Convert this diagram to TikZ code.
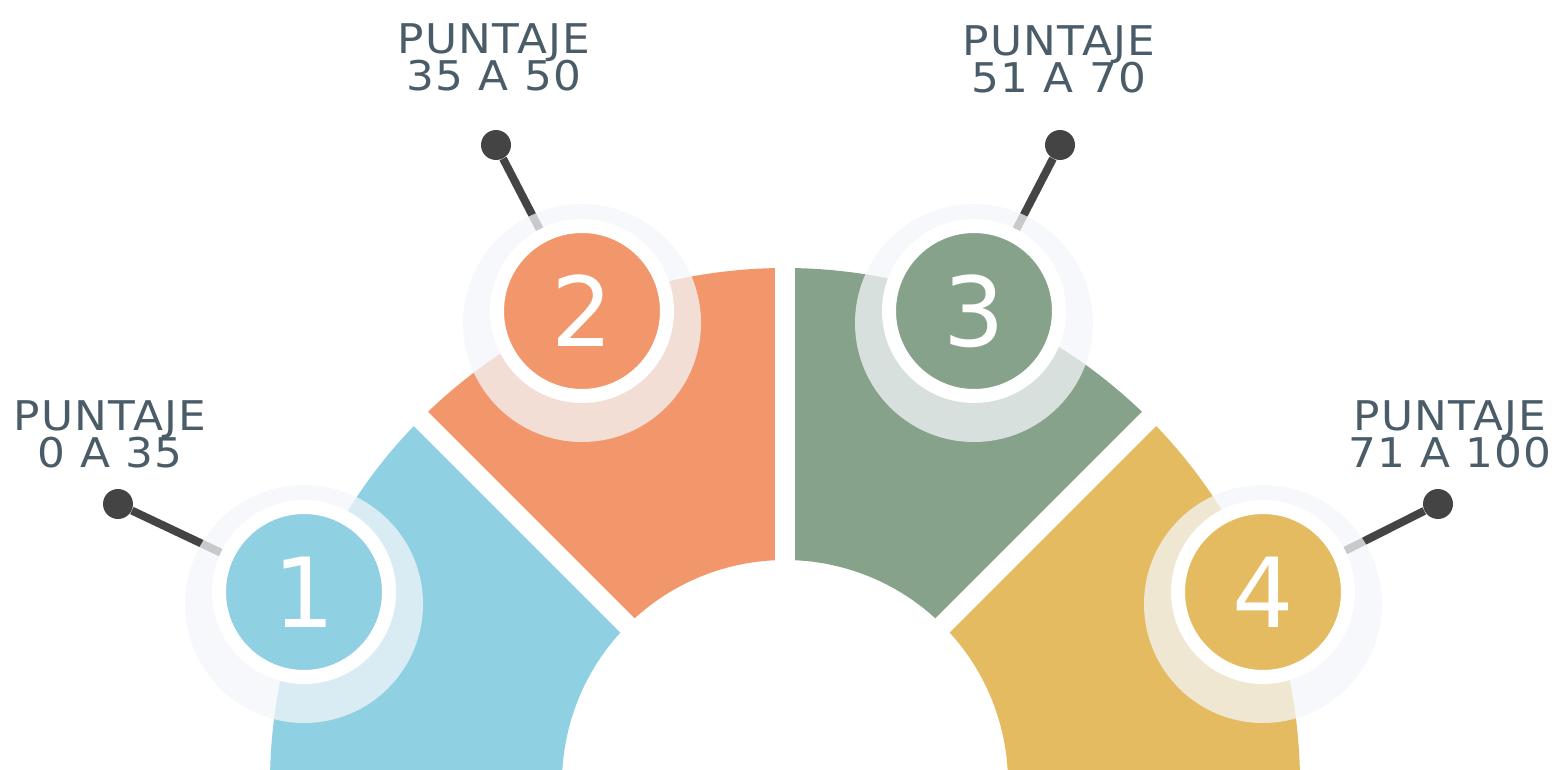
\documentclass[tikz,border=0pt]{standalone}
\usepackage{fontspec}
\setmainfont{DejaVu Sans}
\newfontfamily\labelfont{DejaVu Sans}[LetterSpace=3, FakeStretch=1.07]
\usepackage{tikz}
\usepackage{xcolor}
\usetikzlibrary{positioning}
\definecolor{segBlue}{HTML}{8FD1E2}
\definecolor{segOrange}{HTML}{F2976C}
\definecolor{segGreen}{HTML}{86A28A}
\definecolor{segYellow}{HTML}{E4BB61}
\definecolor{pinGray}{HTML}{444444}
\definecolor{labelGray}{HTML}{4A5C68}
\definecolor{haloTint}{HTML}{F4F6F9}
\pgfdeclarelayer{segs}
\pgfdeclarelayer{pins}
\pgfdeclarelayer{halo}
\pgfsetlayers{segs,pins,halo,main}
\tikzstyle{numcircle} = [circle, minimum size=3.4cm, inner sep=0pt, draw=white, line width=0.28cm, text=white, font={\fontsize{55}{60}\selectfont}]
\tikzstyle{pindot} = [circle, minimum size=0.6cm, inner sep=0pt, fill=pinGray]
\tikzstyle{pinline} = [pinGray, line width=0.16cm]
\tikzstyle{gapline} = [white, line width=0.4cm]
\tikzstyle{haloglow} = [fill=haloTint, fill opacity=0.75]
\tikzstyle{scorelabel} = [anchor=north, inner sep=0pt, align=center, text=labelGray, font={\labelfont\fontsize{23.3}{21}\selectfont\lineskiplimit=-30pt}]

\begin{document}
\begin{tikzpicture}[x=0.02cm, y=0.02cm]
    \useasboundingbox (0,0) rectangle (1555,769);
    \coordinate (ctr) at (785,-14);

    % half ring in four parts
    \begin{pgfonlayer}{segs}
        \foreach \a/\col in {135/segBlue, 90/segOrange, 45/segGreen, 0/segYellow}
            \fill[\col] (ctr) ++(\a:515) arc[start angle=\a, end angle=\a+45, radius=515] -- ++(\a+45:-292) arc[start angle=\a+45, end angle=\a, radius=223] -- cycle;
        \foreach \a in {45,90,135}
            \draw[gapline] (ctr) -- ++(\a:540);
    \end{pgfonlayer}

    \node (n1) [numcircle, fill=segBlue] at (304,177) {1};
    \node (n2) [numcircle, fill=segOrange] at (582,458) {2};
    \node (n3) [numcircle, fill=segGreen] at (974,458) {3};
    \node (n4) [numcircle, fill=segYellow] at (1263,177) {4};

    \node (d1) [pindot] at (118,265) {};
    \node (d2) [pindot] at (496,624) {};
    \node (d3) [pindot] at (1060,624) {};
    \node (d4) [pindot] at (1438,265) {};

    \node (l1) [scorelabel] at (110,369) {PUNTAJE\\0 A 35};
    \node (l2) [scorelabel] at (494,746) {PUNTAJE\\35 A 50};
    \node (l3) [scorelabel] at (1059,744) {PUNTAJE\\51 A 70};
    \node (l4) [scorelabel] at (1450,369) {PUNTAJE\\71 A 100};

    \begin{pgfonlayer}{pins}
        \foreach \i in {1,...,4}
            \draw[pinline] (d\i) -- (n\i);
    \end{pgfonlayer}

    \begin{pgfonlayer}{halo}
        \foreach \i in {1,...,4}
            \fill[haloglow] ([yshift=-0.24cm]n\i.center) circle[radius=119];
    \end{pgfonlayer}

\end{tikzpicture}
\end{document}
